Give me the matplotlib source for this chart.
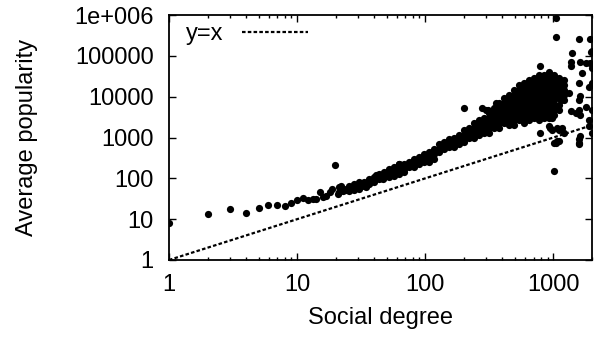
import matplotlib
matplotlib.use('Agg')
import matplotlib.pyplot as plt
from matplotlib.ticker import FixedLocator, FixedFormatter, LogLocator, NullFormatter

plt.rcParams['font.family'] = ['Liberation Sans', 'DejaVu Sans']

# sparse users with few friends
low_deg = [1, 2, 3, 4, 5, 5.9, 7, 8, 9, 10, 11.1, 12.1, 13.3, 14.1, 15.1, 15.9, 16.9,
           17.9, 18.8, 19.8, 20.8, 22.1, 22.7, 24.1, 25.6, 28, 30.6, 34.5, 36.7, 41.3,
           46.5, 62]
low_pop = [8, 13.5, 17.5, 14, 18.5, 22, 22, 21, 25.5, 29.6, 33, 29.6, 32, 32, 45, 35, 37,
           45, 54, 207, 41, 65, 49, 52, 54, 52, 56, 63, 75, 118, 95, 219]

# dense band: one social degree per column, the popularities seen at that degree
band_deg = [21.4, 23.4, 25.6, 28.0, 30.6, 33.5, 36.7, 40.1, 43.9, 48.0, 52.5, 57.4, 62.8,
            68.7, 75.0, 82.0, 89.8, 98.2, 107, 117, 128, 141, 154, 168, 184, 201, 220,
            240, 263, 288, 315, 344, 377, 412, 451, 493, 539, 589, 644, 705, 771, 843,
            922, 1009, 1104, 1207]
band_pop = [
    [60, 46], [54], [64, 48], [71, 54], [80, 60], [80, 64], [95, 71], [106, 80],
    [125, 95], [140, 106], [166, 125, 106], [185, 140, 112], [219, 166, 125],
    [219, 166, 140], [245, 185], [290, 219, 185], [325, 245, 219], [385, 290, 245],
    [431, 325, 245], [510, 385, 290], [675, 510, 431], [755, 570, 510],
    [894, 675, 570], [1000, 755, 570], [1180, 894, 675], [1570, 1180, 894, 755],
    [1750, 1320, 1000], [2320, 1750, 1320, 1000], [2750, 2080, 1570, 1180],
    [3070, 2320, 1750, 1320], [4070, 3070, 2320, 1750, 1320],
    [5390, 4070, 3070, 2320, 1750], [7140, 5390, 4070, 3070, 2320, 1750],
    [9460, 7140, 5390, 4070, 3070, 2320],
    [11200, 8450, 6380, 4820, 3640, 2750, 2080],
    [14800, 11200, 8450, 6380, 4820, 3640, 2750, 2080],
    [19600, 14800, 11200, 8450, 6380, 4820, 3640, 2750],
    [21900, 16600, 12500, 9460, 7140, 5390, 4070, 3070, 2320],
    [26000, 19600, 14800, 11200, 8450, 6380, 4820, 3640, 2750],
    [29100, 21900, 16600, 12500, 9460, 7140, 5390, 4070, 3070],
    [34400, 26000, 19600, 14800, 11200, 8450, 6380, 4820, 3640, 2750],
    [34400, 26000, 19600, 14800, 11200, 8450, 6380, 4820, 3640, 3070],
    [40800, 29100, 21900, 16600, 12500, 9460, 7140, 5390, 4070, 3070],
    [34400, 26000, 19600, 14800, 11200, 8450, 6380, 4820, 3640],
    [29100, 21900, 16600, 12500, 9460, 6380, 4820],
    [26000, 19600, 14800, 11200, 8450],
]

# scattered points around and above the band
out_deg = [200, 276, 297, 309, 356, 385, 539, 620, 790,
           1040, 1050, 1580, 1940, 1970, 1390, 1380, 1380, 1620, 1780, 1940, 1660,
           1890, 1580, 1320, 1140, 1620, 1580, 1780, 1490, 1360, 1580, 1620, 1890,
           1890, 1990, 1990, 1990, 1990,
           920, 970, 1060, 1160, 790, 940, 1100, 1210, 1010, 1060, 1040, 1100, 1620,
           1580, 1580, 1580, 1990, 970, 1010]
out_pop = [5400, 5400, 4800, 4600, 7100, 5400, 14800, 16600, 55000,
           830000, 285000, 255000, 255000, 125000, 115000, 72000, 55000, 72000, 67000,
           66000, 38000, 17700, 21500, 12300, 8450, 10100, 8450, 5700, 3980, 4400,
           4820, 3640, 2750, 1880, 4800, 22000, 50000, 135000,
           1880, 1570, 1750, 1750, 1300, 1720, 1570, 1300, 740, 810, 740, 810, 1070,
           740, 894, 675, 1320, 3070, 150]

diag = [1, 2000]

xticks = [1, 10, 100, 1000]
xtick_labels = ['1', '10', '100', '1000']
yticks = [1, 10, 100, 1000, 10000, 100000, 1000000]
ytick_labels = ['1', '10', '100', '1000', '10000', '100000', '1e+006']

deg = list(low_deg)
pop = list(low_pop)
for x, ys in zip(band_deg, band_pop):
    for y in ys:
        deg.append(x)
        pop.append(y)
deg += out_deg
pop += out_pop

fig = plt.figure(figsize=(5.95, 3.37), dpi=100)
ax = fig.add_axes([169 / 595, 1 - 260 / 337, 423 / 595, 245 / 337])

ax.plot(deg, pop, 'o', color='black', markersize=5.2, markeredgewidth=0, zorder=3)
line, = ax.plot(diag, diag, color='black', linewidth=1.6,
                linestyle=(0, (1.6, 1.0)), label='y=x', zorder=2)

ax.set_xscale('log')
ax.set_yscale('log')
ax.set_xlim(1, 2000)
ax.set_ylim(1, 1000000)

ax.xaxis.set_major_locator(FixedLocator(xticks))
ax.xaxis.set_major_formatter(FixedFormatter(xtick_labels))
ax.yaxis.set_major_locator(FixedLocator(yticks))
ax.yaxis.set_major_formatter(FixedFormatter(ytick_labels))
for axis in (ax.xaxis, ax.yaxis):
    axis.set_minor_locator(LogLocator(base=10, subs=range(2, 10)))
    axis.set_minor_formatter(NullFormatter())

ax.tick_params(which='both', direction='in', top=True, right=True, width=1.0,
               color='black')
ax.tick_params(which='major', length=5, labelsize=17)
ax.tick_params(axis='x', which='major', pad=10)
ax.tick_params(axis='y', which='major', pad=11)
ax.tick_params(which='minor', length=2.5)
for s in ax.spines.values():
    s.set_linewidth(1.3)
    s.set_edgecolor('black')
    s.set_zorder(6)

ax.set_xlabel('Social degree', fontsize=17, labelpad=8)
ax.set_ylabel('Average popularity', fontsize=17, labelpad=26)

ax.legend(handles=[line], loc='upper left', bbox_to_anchor=(0.012, 1.015),
          frameon=False, markerfirst=False,
          fontsize=17, handlelength=2.8, handletextpad=0.8,
          borderaxespad=0.2, borderpad=0.3)

fig.savefig('out.png', dpi=100)
